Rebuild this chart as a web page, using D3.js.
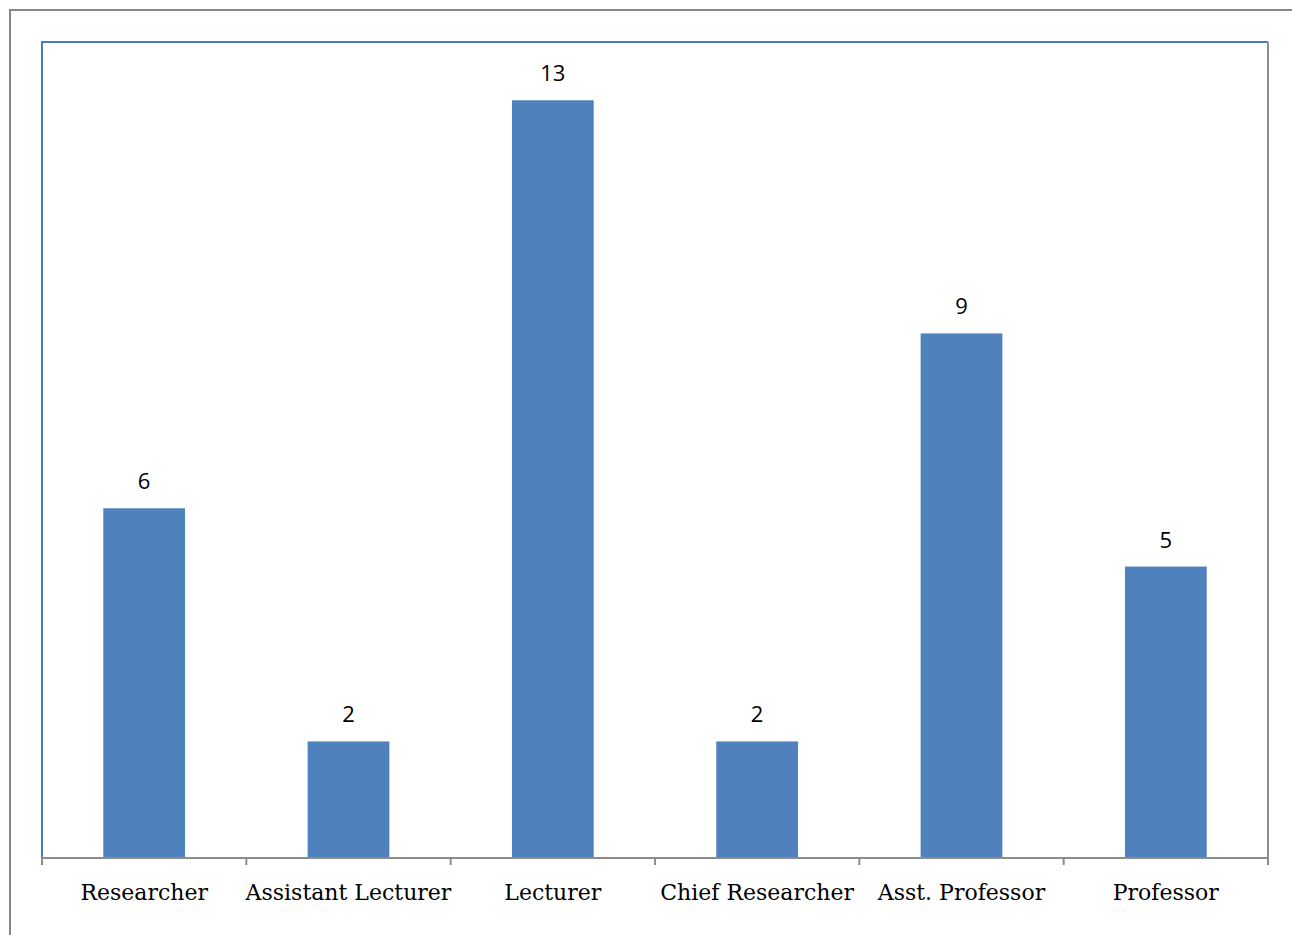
<!DOCTYPE html>
<html>
<head>
<meta charset="utf-8">
<script src="https://cdn.jsdelivr.net/npm/d3@7"></script>
<style>
  body { margin: 0; background: #fff; }
</style>
</head>
<body>
<div id="chart"></div>
<script>
var categories = ["Researcher", "Assistant Lecturer", "Lecturer", "Chief Researcher", "Asst. Professor", "Professor"];
var values = [6, 2, 13, 2, 9, 5];
var yMax = 14;

var width = 1292, height = 935;
var plot = {left: 42, top: 42, right: 1268, bottom: 858};

var svg = d3.select("#chart").append("svg")
  .attr("width", width)
  .attr("height", height);

// outer chart frame (only top and left are in view)
svg.append("path")
  .attr("d", "M10,940 L10,10 L1300,10")
  .attr("fill", "none")
  .attr("stroke", "#868686")
  .attr("stroke-width", 2);

var x = d3.scaleBand()
  .domain(categories)
  .range([plot.left, plot.right])
  .paddingInner(0.6)
  .paddingOuter(0.3);

var xBounds = d3.scaleLinear().domain([0, categories.length]).range([plot.left, plot.right]);

var y = d3.scaleLinear()
  .domain([0, yMax])
  .range([plot.bottom, plot.top]);

// plot area border: blue top/left, grey right
svg.append("path")
  .attr("d", "M" + plot.left + "," + plot.bottom + " L" + plot.left + "," + plot.top + " L" + plot.right + "," + plot.top)
  .attr("fill", "none")
  .attr("stroke", "#4A7EBB")
  .attr("stroke-width", 2);
svg.append("line")
  .attr("x1", plot.right).attr("x2", plot.right)
  .attr("y1", plot.top).attr("y2", plot.bottom)
  .attr("stroke", "#8C8C8C")
  .attr("stroke-width", 2);

// bars
svg.selectAll("rect.bar")
  .data(values)
  .enter().append("rect")
  .attr("class", "bar")
  .attr("x", function(d, i) { return x(categories[i]); })
  .attr("width", x.bandwidth())
  .attr("y", function(d) { return y(d); })
  .attr("height", function(d) { return y(0) - y(d); })
  .attr("fill", "#4F81BD");

// value labels
svg.selectAll("text.val")
  .data(values)
  .enter().append("text")
  .attr("class", "val")
  .attr("x", function(d, i) { return x(categories[i]) + x.bandwidth() / 2; })
  .attr("y", function(d) { return y(d) - 19; })
  .attr("text-anchor", "middle")
  .attr("font-family", "'Open Sans', 'Noto Sans', sans-serif")
  .attr("font-size", "22px")
  .attr("fill", "#000")
  .text(function(d) { return d; });

// x axis with tick marks between categories
svg.append("line")
  .attr("x1", plot.left).attr("x2", plot.right)
  .attr("y1", plot.bottom).attr("y2", plot.bottom)
  .attr("stroke", "#8C8C8C")
  .attr("stroke-width", 2);

svg.selectAll("line.tick")
  .data(d3.range(categories.length + 1))
  .enter().append("line")
  .attr("class", "tick")
  .attr("x1", function(d) { return xBounds(d); })
  .attr("x2", function(d) { return xBounds(d); })
  .attr("y1", plot.bottom)
  .attr("y2", plot.bottom + 7)
  .attr("stroke", "#8C8C8C")
  .attr("stroke-width", 2);

svg.selectAll("text.cat")
  .data(categories)
  .enter().append("text")
  .attr("class", "cat")
  .attr("x", function(d) { return x(d) + x.bandwidth() / 2; })
  .attr("y", plot.bottom + 42)
  .attr("text-anchor", "middle")
  .attr("font-family", "'DejaVu Serif', 'Liberation Serif', serif")
  .attr("font-size", "22px")
  .attr("fill", "#000")
  .text(function(d) { return d; });
</script>
</body>
</html>
